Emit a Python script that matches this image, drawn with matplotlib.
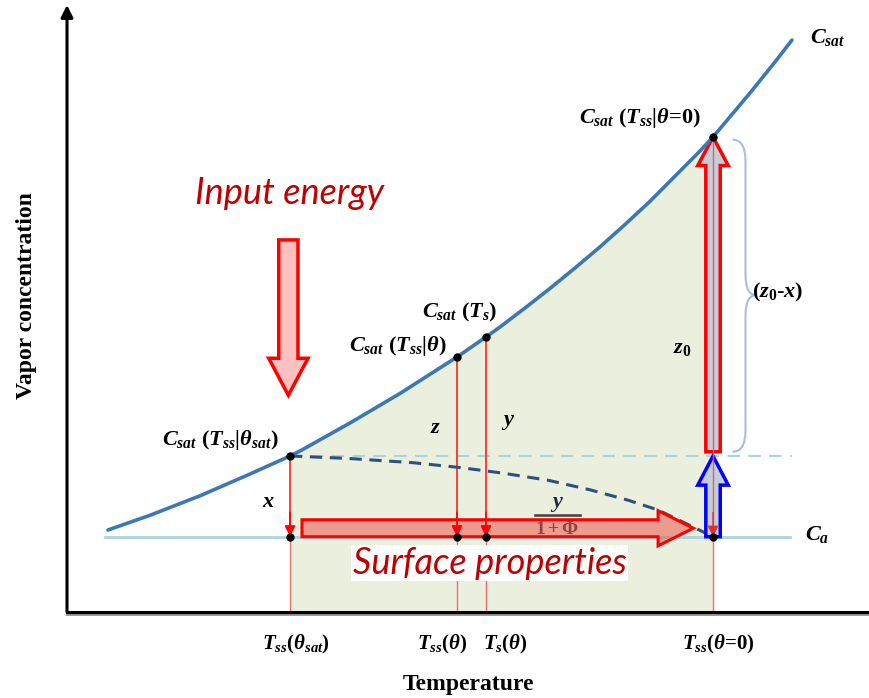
import numpy as np
import matplotlib
matplotlib.use("Agg")
import matplotlib.pyplot as plt
from matplotlib.path import Path
from matplotlib.patches import PathPatch

plt.rcParams['mathtext.fontset'] = 'custom'
plt.rcParams['mathtext.rm'] = 'Liberation Serif:bold'
plt.rcParams['mathtext.it'] = 'Liberation Serif:italic:bold'
plt.rcParams['mathtext.bf'] = 'Liberation Serif:bold'

# saturation curve C_sat(T) (arbitrary units 0-100)
curve_T = [5.11, 10.35, 16.58, 22.82, 27.81, 29.05, 35.29, 41.52, 47.76, 48.63,
           52.24, 53.99, 57.11, 60.22, 63.34, 66.46, 69.58, 72.69, 75.81, 78.93,
           80.55, 85.16, 88.28, 90.40]
curve_C = [13.51, 15.93, 19.14, 22.73, 25.70, 26.52, 31.14, 36.00, 41.27, 42.01,
           45.30, 46.95, 50.08, 53.30, 56.67, 60.15, 63.84, 67.65, 71.80, 75.95,
           78.25, 85.50, 90.61, 94.23]

# dashed decay curve from C_sat(T_ss|theta_sat) down to C_a
decay_T = [27.81, 35.0, 43.1, 49.0, 54.2, 60.0, 65.3, 70.0, 73.7, 77.6, 80.55]
decay_C = [25.7, 25.3, 24.6, 23.8, 22.9, 21.7, 20.1, 18.4, 16.8, 14.3, 12.4]

# key temperatures and concentrations
T_sat, T_ss, T_s, T_0 = 27.81, 48.63, 52.24, 80.55
C_at = {T_sat: 25.70, T_ss: 42.01, T_s: 45.30, T_0: 78.25}
C_a = 12.4

tick_T = [28.5, 46.8, 54.7, 81.2]
tick_labels = [r'$T_{ss}(\theta_{sat})$', r'$T_{ss}(\theta)$', r'$T_{s}(\theta)$',
               r'$T_{ss}(\theta$=0)']

red_dark = '#C00000'

fig = plt.figure(figsize=(8.69, 6.98), dpi=100)
ax = fig.add_axes([0, 0, 1, 1])
ax.set_xlim(-8.354, 100)
ax.set_ylim(-14.17, 100.82)
ax.axis('off')

# shaded region under the curve
cT = np.array(curve_T)
cC = np.array(curve_C)
m = (cT >= T_sat) & (cT <= T_0)
ax.fill_between(cT[m], 0, cC[m], color='#EBEFDD', lw=0, zorder=1)

# C_a line and dashed level of C_sat(theta_sat)
ax.plot([4.7, 90.1], [C_a, C_a], color='#A8D4E0', lw=2, zorder=2)
ax.plot([T_sat, 90.4], [C_at[T_sat], C_at[T_sat]], color='#A8D4E0', lw=1.5,
        ls=(0, (6, 4)), zorder=2)
ax.plot(decay_T, decay_C, color='#2F4F7F', lw=2.2, ls=(0, (4, 2.5)), zorder=3)

# vertical drop lines
for t in [T_sat, T_ss, T_s, T_0]:
    ax.plot([t, t], [0, C_a], color='#F07070', lw=1, zorder=2)
for t in [T_sat, T_ss, T_s]:
    ax.plot([t, t], [C_a, C_at[t]], color='#FF2020', lw=1.2, zorder=2)

# fraction y / (1 + Phi), partly under the big arrow
ax.text(61.1, 17.8, r'$y$', fontsize=16, ha='center', va='center', color='#202840', zorder=3)
ax.plot([58.3, 64.0], [16.0, 16.0], color='#404040', lw=1.8, zorder=3)
ax.text(61.1, 13.7, r'$1+\Phi$', fontsize=14, ha='center', va='center',
        color='#202840', zorder=3)

# big horizontal arrow (surface properties)
ax.arrow(29.3, 13.8, 78.1 - 29.3, 0, width=2.8, head_width=5.8, head_length=4.4,
         length_includes_head=True, fc=(0.93, 0.35, 0.3, 0.55), ec='red', lw=2.2, zorder=4)

# small arrow heads down to C_a
for t in [T_sat, T_ss, T_s]:
    ax.annotate('', xy=(t, C_a), xytext=(t, C_a + 4),
                arrowprops=dict(arrowstyle='-|>', color='red', lw=1.2,
                                mutation_scale=16, shrinkA=0, shrinkB=0), zorder=5)

# input energy arrow
ax.arrow(27.6, 61.3, 0, 35.7 - 61.3, width=2.4, head_width=4.9, head_length=6.1,
         length_includes_head=True, fc='#FFC0C0', ec='red', lw=2.5, zorder=4)

# vertical arrows at T_0
ax.arrow(T_0, 26.4, 0, C_at[T_0] - 26.4, width=1.8, head_width=3.8, head_length=4.7,
         length_includes_head=True, fc='#C5CED8', ec='red', lw=2.5, zorder=4)
ax.arrow(T_0, C_a, 0, 25.7 - C_a, width=1.8, head_width=3.8, head_length=4.8,
         length_includes_head=True, fc='#C5CED8', ec='blue', lw=2.5, zorder=4)
ax.plot([T_0, T_0], [C_a, C_at[T_0]], color='#E06060', lw=1, zorder=5)
ax.annotate('', xy=(T_0, C_a), xytext=(T_0, C_a + 4),
            arrowprops=dict(arrowstyle='-|>', color='#E03030', lw=1,
                            mutation_scale=16, shrinkA=0, shrinkB=0), zorder=6)

# saturation curve
ax.plot(curve_T, curve_C, color='#3C78B4', lw=2.6, zorder=6, solid_capstyle='round')

# dots
for t in [T_sat, T_ss, T_s, T_0]:
    ax.plot(t, C_at[t], 'o', color='black', ms=5, zorder=7)
    ax.plot(t, C_a, 'o', color='black', ms=5, zorder=7)

# brace for (z0 - x)
x0, x1, xt = 83.0, 84.6, 85.9
top, bot, mid, r = 77.8, 26.4, 52.2, 3.5
verts = [(x0, top), (x1, top), (x1, top - r),
         (x1, mid + r),
         (x1, mid), (xt, mid),
         (x1, mid), (x1, mid - r),
         (x1, bot + r),
         (x1, bot), (x0, bot)]
codes = [Path.MOVETO, Path.CURVE3, Path.CURVE3,
         Path.LINETO,
         Path.CURVE3, Path.CURVE3,
         Path.CURVE3, Path.CURVE3,
         Path.LINETO,
         Path.CURVE3, Path.CURVE3]
ax.add_patch(PathPatch(Path(verts, codes), fc='none', ec='#A9BEDA', lw=1.5, zorder=3))

# axes with arrow
ax.annotate('', xy=(0, 100), xytext=(0, 0),
            arrowprops=dict(arrowstyle='-|>', color='black', lw=2.2,
                            mutation_scale=18, shrinkA=0, shrinkB=0), zorder=8)
ax.plot([0, 100], [-0.35, -0.35], color='#909090', lw=2, zorder=7)
ax.plot([0, 100], [0, 0], color='black', lw=2.2, zorder=8)

# labels
lab = dict(fontsize=16, ha='center', va='center', color='black', zorder=9,
           family='Liberation Serif', fontweight='bold')
ax.text(94.9, 94.6, r'$C_{sat}$', **lab)
ax.text(71.4, 81.4, r'$C_{sat}\ (T_{ss}|\theta$=0)', **lab)
ax.text(49.0, 49.4, r'$C_{sat}\ (T_{s})$', **lab)
ax.text(41.3, 43.8, r'$C_{sat}\ (T_{ss}|\theta)$', **lab)
ax.text(19.1, 28.3, r'$C_{sat}\ (T_{ss}|\theta_{sat})$', **lab)
ax.text(46.0, 30.3, r'$z$', **lab)
ax.text(55.0, 31.3, r'$y$', **lab)
ax.text(25.1, 18.1, r'$x$', **lab)
ax.text(76.7, 43.5, r'$z_0$', **lab)
ax.text(88.6, 52.7, r'$(z_0$-$x)$', **lab)
ax.text(93.5, 12.7, r'$C_a$', **lab)

for t, s in zip(tick_T, tick_labels):
    ax.text(t, -5.4, s, fontsize=15, ha='center', va='center',
            family='Liberation Serif', fontweight='bold')

ax.text(50.0, -12.0, 'Temperature', fontsize=17, fontweight='bold',
        family='Liberation Serif', ha='center', va='center')
ax.text(-5.0, 52.2, 'Vapor concentration', fontsize=17, fontweight='bold',
        family='Liberation Serif', ha='center', va='center', rotation=90)

ax.text(27.8, 69.0, 'Input energy', fontsize=26, style='italic', family='Lato',
        color=red_dark, ha='center', va='center', zorder=9)
ax.text(52.7, 8.0, 'Surface properties', fontsize=26, style='italic', family='Lato',
        color=red_dark, ha='center', va='center', zorder=9,
        bbox=dict(fc='white', ec='none', pad=1))

fig.savefig('out.png', dpi=100)
